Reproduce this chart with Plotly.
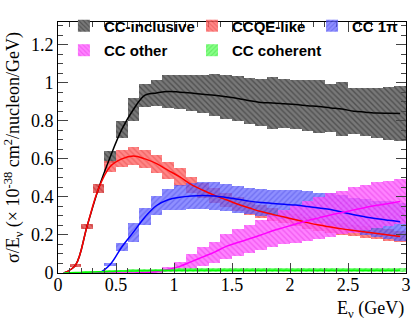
import plotly.graph_objects as go
import numpy as np

# bin centres in GeV (0.1 GeV bins)
energy = [0.05, 0.15, 0.25, 0.35, 0.45, 0.55, 0.65, 0.75, 0.85, 0.95,
          1.05, 1.15, 1.25, 1.35, 1.45, 1.55, 1.65, 1.75, 1.85, 1.95,
          2.05, 2.15, 2.25, 2.35, 2.45, 2.55, 2.65, 2.75, 2.85, 2.95]

cc_inclusive = [0, 0.04, 0.245, 0.445, 0.61, 0.755, 0.86, 0.935, 0.947, 0.955,
                0.951, 0.946, 0.94, 0.935, 0.927, 0.918, 0.906, 0.897, 0.894, 0.89,
                0.886, 0.88, 0.875, 0.868, 0.862, 0.851, 0.846, 0.841, 0.84, 0.839]
cc_inclusive_err = [0, 0.005, 0.012, 0.025, 0.033, 0.045, 0.06, 0.06, 0.07, 0.085,
                    0.09, 0.095, 0.1, 0.11, 0.115, 0.12, 0.12, 0.125, 0.135, 0.13,
                    0.13, 0.135, 0.14, 0.125, 0.14, 0.12, 0.125, 0.13, 0.14, 0.145]

ccqe_like = [0, 0.04, 0.245, 0.445, 0.56, 0.60, 0.615, 0.60, 0.575, 0.54,
             0.505, 0.465, 0.435, 0.408, 0.385, 0.362, 0.342, 0.323, 0.308, 0.294,
             0.28, 0.265, 0.252, 0.242, 0.232, 0.224, 0.216, 0.208, 0.2, 0.192]
ccqe_like_err = [0, 0.005, 0.012, 0.025, 0.03, 0.045, 0.047, 0.047, 0.047, 0.045,
                 0.045, 0.042, 0.04, 0.04, 0.038, 0.036, 0.035, 0.034, 0.033, 0.032,
                 0.032, 0.031, 0.03, 0.03, 0.03, 0.03, 0.03, 0.03, 0.03, 0.03]

cc_1pi = [0, 0, 0, 0, 0.045, 0.137, 0.215, 0.295, 0.355, 0.385,
          0.398, 0.405, 0.408, 0.405, 0.397, 0.388, 0.378, 0.371, 0.366, 0.361,
          0.357, 0.35, 0.342, 0.334, 0.32, 0.306, 0.295, 0.285, 0.277, 0.27]
cc_1pi_err = [0, 0, 0, 0, 0.01, 0.02, 0.05, 0.045, 0.05, 0.055,
              0.065, 0.07, 0.072, 0.072, 0.072, 0.07, 0.07, 0.07, 0.072, 0.075,
              0.078, 0.08, 0.08, 0.085, 0.09, 0.09, 0.095, 0.095, 0.1, 0.1]

cc_other = [0, 0, 0, 0, 0, 0, 0, 0.002, 0.008, 0.018,
            0.035, 0.06, 0.085, 0.11, 0.14, 0.16, 0.18, 0.2, 0.222, 0.24,
            0.258, 0.275, 0.29, 0.305, 0.318, 0.332, 0.345, 0.356, 0.366, 0.376]
cc_other_err = [0, 0, 0, 0, 0, 0, 0, 0.002, 0.005, 0.012,
                0.025, 0.04, 0.05, 0.055, 0.065, 0.07, 0.075, 0.08, 0.085, 0.09,
                0.1, 0.105, 0.11, 0.115, 0.115, 0.12, 0.12, 0.12, 0.12, 0.12]

cc_coherent = [0, 0.002, 0.004, 0.006, 0.008, 0.01, 0.011, 0.012, 0.013, 0.014,
               0.015, 0.015, 0.015, 0.015, 0.015, 0.015, 0.015, 0.015, 0.015, 0.015,
               0.015, 0.015, 0.015, 0.015, 0.015, 0.015, 0.015, 0.015, 0.015, 0.015]
cc_coherent_err = [0, 0.002, 0.004, 0.005, 0.006, 0.007, 0.008, 0.008, 0.009, 0.009,
                   0.009, 0.009, 0.009, 0.009, 0.009, 0.009, 0.009, 0.009, 0.009, 0.009,
                   0.009, 0.009, 0.009, 0.009, 0.009, 0.009, 0.009, 0.009, 0.009, 0.009]

# name, values, errors, line colour, band bg, band fg, hatch, legend, opacity
samples = [
    ("CC-inclusive", cc_inclusive, cc_inclusive_err, "#000000", "#787878", "#282828", "\\", "legend", 1.0),
    ("CCQE-like", ccqe_like, ccqe_like_err, "#ff0000", "#ff6a6a", "#e01818", "\\", "legend2", 0.8),
    ("CC 1π", cc_1pi, cc_1pi_err, "#0000ff", "#6a6aff", "#1818e0", "/", "legend3", 0.75),
    ("CC other", cc_other, cc_other_err, "#ff00ff", "#ff60ff", "#e000e0", "\\", "legend", 0.78),
    ("CC coherent", cc_coherent, cc_coherent_err, "#00ff00", "#6aff6a", "#10d010", "/", "legend2", 0.8),
]

fig = go.Figure()

# hatched error bands
for name, val, err, lc, bg, fg, hatch, leg, op in samples:
    val = np.asarray(val)
    err = np.asarray(err)
    fig.add_trace(go.Bar(
        x=energy, y=2*err, base=val-err, width=0.1,
        name=name, legend=leg, legendgroup=name, opacity=op,
        marker=dict(color=bg, line=dict(width=0),
                    pattern=dict(shape=hatch, bgcolor=bg, fgcolor=fg, size=4, solidity=0.35)),
        hoverinfo="skip",
    ))

# central value curves
for name, val, err, lc, bg, fg, hatch, leg, op in samples:
    fig.add_trace(go.Scatter(
        x=energy, y=val, mode="lines", line=dict(color=lc, width=1.5, shape="spline"),
        showlegend=False, hoverinfo="skip",
    ))

serif = "Liberation Serif, Times New Roman, Times, serif"
leg_font = dict(family="Liberation Sans, Arial, sans-serif", size=15, color="black", weight="bold")
leg_common = dict(font=leg_font, bgcolor="rgba(0,0,0,0)", xanchor="left", yanchor="top",
                  y=1.05, tracegroupgap=2, traceorder="grouped")

fig.update_layout(
    width=415, height=321,
    margin=dict(l=58, r=9, t=15, b=48),
    plot_bgcolor="white", paper_bgcolor="white",
    barmode="overlay", bargap=0,
    font=dict(family=serif, size=18, color="black"),
    legend=dict(x=0.017, **leg_common),
    legend2=dict(x=0.385, **leg_common),
    legend3=dict(x=0.73, **leg_common),
    xaxis=dict(range=[0, 3], dtick=0.5, tick0=0, ticks="inside", ticklen=10,
               showline=True, linecolor="black", linewidth=1, mirror="allticks",
               showgrid=False, zeroline=False, automargin=False,
               tickfont=dict(family=serif, size=18), ticklabelstandoff=-5,
               minor=dict(dtick=0.1, ticks="inside", ticklen=5, showgrid=False)),
    yaxis=dict(range=[0, 1.32], dtick=0.2, tick0=0, ticks="inside", ticklen=10,
               showline=True, linecolor="black", linewidth=1, mirror="allticks",
               showgrid=False, zeroline=False, automargin=False,
               tickfont=dict(family=serif, size=18),
               title=dict(text="σ/E<sub>ν</sub> (× 10<sup>-38</sup> cm<sup>2</sup>/nucleon/GeV)",
                          font=dict(family=serif, size=18), standoff=6),
               minor=dict(dtick=0.05, ticks="inside", ticklen=5, showgrid=False)),
)

fig.add_annotation(text="E<sub>ν</sub> (GeV)", xref="paper", yref="paper",
                   x=1.0, y=-0.145, xanchor="right", yanchor="middle",
                   showarrow=False, font=dict(family=serif, size=18))

# drop the default page margin so the figure sits at the window origin
fig.write_html("out.html", config={"displayModeBar": False},
               post_script="document.body.style.margin='0';")
